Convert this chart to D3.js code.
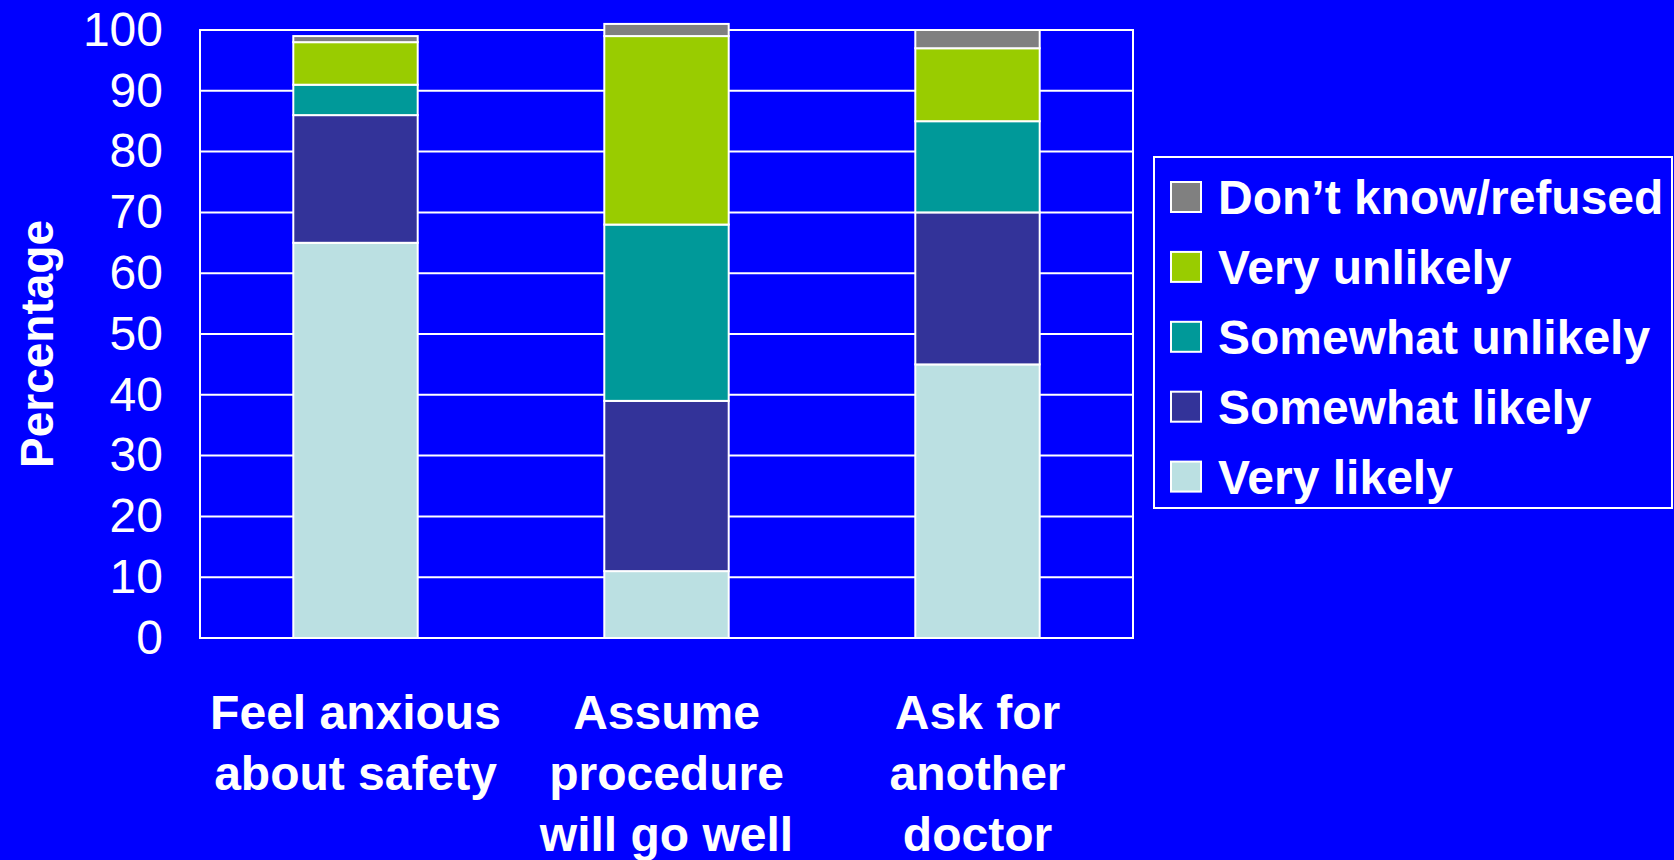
<!DOCTYPE html>
<html>
<head>
<meta charset="utf-8">
<script src="https://cdn.jsdelivr.net/npm/d3@7"></script>
<style>
  html, body { margin: 0; padding: 0; background: #0000ff; }
  svg { display: block; }
  text { font-family: "Liberation Sans", Arial, sans-serif; fill: #fff; }
</style>
</head>
<body>
<svg id="chart"></svg>
<script>
// data
const categories = ['Feel anxious about safety', 'Assume procedure will go well', 'Ask for another doctor'];
const categoryLines = [
  ['Feel anxious', 'about safety'],
  ['Assume', 'procedure', 'will go well'],
  ['Ask for', 'another', 'doctor']
];
const seriesNames = ['Very likely', 'Somewhat likely', 'Somewhat unlikely', 'Very unlikely', 'Don\u2019t know/refused'];
const veryLikely = [65, 11, 45];
const somewhatLikely = [21, 28, 25];
const somewhatUnlikely = [5, 29, 15];
const veryUnlikely = [7, 31, 12];
const dontKnow = [1, 2, 3];
const seriesColors = ['#bbe0e2', '#333399', '#009999', '#99cc00', '#808080'];
const yTicks = [0, 10, 20, 30, 40, 50, 60, 70, 80, 90, 100];

const W = 1674, H = 860;
const margin = { left: 200, right: 541, top: 30, bottom: 222 };
const width = W - margin.left - margin.right;
const height = H - margin.top - margin.bottom;

const seriesValues = [veryLikely, somewhatLikely, somewhatUnlikely, veryUnlikely, dontKnow];
const rows = categories.map((c, i) => {
  const r = { category: c };
  seriesNames.forEach((s, j) => { r[s] = seriesValues[j][i]; });
  return r;
});
const stacked = d3.stack().keys(seriesNames)(rows);

const svg = d3.select('#chart')
  .attr('width', W)
  .attr('height', H);

svg.append('rect')
  .attr('width', W).attr('height', H)
  .attr('fill', '#0000ff');

const x = d3.scaleBand()
  .domain(categories)
  .range([0, width])
  .paddingInner(0.6)
  .paddingOuter(0.3);

const y = d3.scaleLinear()
  .domain([0, 100])
  .range([height, 0]);

const color = d3.scaleOrdinal().domain(seriesNames).range(seriesColors);

const g = svg.append('g')
  .attr('transform', `translate(${margin.left}, ${margin.top})`);

// grid lines
g.append('g').attr('class', 'grid')
  .selectAll('line')
  .data(yTicks)
  .join('line')
  .attr('x1', 0).attr('x2', width)
  .attr('y1', d => y(d)).attr('y2', d => y(d))
  .attr('stroke', '#fff')
  .attr('stroke-width', 2);

// plot frame
g.append('rect')
  .attr('width', width).attr('height', height)
  .attr('fill', 'none')
  .attr('stroke', '#fff')
  .attr('stroke-width', 2);

// y axis labels
const yAxis = d3.axisLeft(y).tickValues(yTicks).tickSize(0).tickPadding(37);
g.append('g').attr('class', 'axis--y')
  .call(yAxis)
  .call(a => a.select('.domain').remove())
  .selectAll('text')
  .attr('font-size', 48)
  .attr('fill', '#fff')
  .attr('font-family', '"Liberation Sans", Arial, sans-serif');

// bars
g.append('g').attr('class', 'bars')
  .selectAll('g')
  .data(stacked)
  .join('g')
  .attr('fill', d => color(d.key))
  .selectAll('rect')
  .data(d => d)
  .join('rect')
  .attr('x', d => x(d.data.category))
  .attr('y', d => y(d[1]))
  .attr('width', x.bandwidth())
  .attr('height', d => y(d[0]) - y(d[1]))
  .attr('stroke', '#fff')
  .attr('stroke-width', 2);

// category labels
const xl = g.append('g').attr('class', 'axis--x');
categories.forEach((c, i) => {
  const t = xl.append('text')
    .attr('x', x(c) + x.bandwidth() / 2)
    .attr('y', 699)
    .attr('text-anchor', 'middle')
    .attr('font-size', 48)
    .attr('font-weight', 'bold');
  categoryLines[i].forEach((line, k) => {
    t.append('tspan')
      .attr('x', x(c) + x.bandwidth() / 2)
      .attr('y', 699 + k * 61)
      .text(line);
  });
});

// y title
svg.append('text')
  .attr('transform', 'translate(53, 344) rotate(-90)')
  .attr('text-anchor', 'middle')
  .attr('font-size', 46)
  .attr('font-weight', 'bold')
  .text('Percentage');

// legend
const legend = svg.append('g').attr('class', 'legend');
legend.append('rect')
  .attr('x', 1154).attr('y', 157)
  .attr('width', 518).attr('height', 351)
  .attr('fill', 'none')
  .attr('stroke', '#fff')
  .attr('stroke-width', 2);

const legendOrder = seriesNames.slice().reverse();
const items = legend.selectAll('g.item')
  .data(legendOrder)
  .join('g')
  .attr('class', 'item')
  .attr('transform', (d, i) => `translate(1171, ${197 + i * 69.9})`);

items.append('rect')
  .attr('x', 0).attr('y', -15)
  .attr('width', 30).attr('height', 30)
  .attr('fill', d => color(d))
  .attr('stroke', '#fff')
  .attr('stroke-width', 2);

items.append('text')
  .attr('x', 47)
  .attr('y', 17)
  .attr('font-size', 48)
  .attr('font-weight', 'bold')
  .text(d => d);
</script>
</body>
</html>
